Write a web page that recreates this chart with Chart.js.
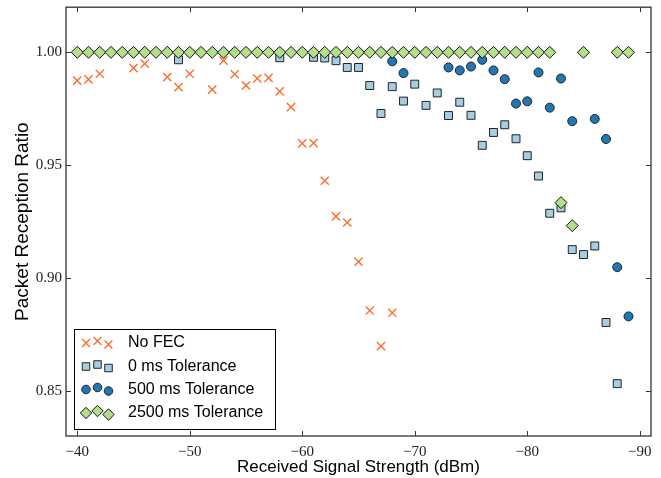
<!DOCTYPE html>
<html>
<head>
<meta charset="utf-8">
<script src="https://cdn.jsdelivr.net/npm/chart.js@4/dist/chart.umd.min.js"></script>
<style>
  html, body { margin: 0; padding: 0; background: #fff; }
  #wrap { width: 661px; height: 478px; }
</style>
</head>
<body>
<div id="wrap"><canvas id="chartPRR" width="661" height="478"></canvas></div>
<script>
// tick labels
const xTicks = [-90, -80, -70, -60, -50, -40];
const yTicks = [0.85, 0.90, 0.95, 1.00];

// No FEC
const noFecX = [-40, -41, -42, -45, -46, -48, -49, -50, -52, -53, -54, -55, -56, -57, -58, -59, -60, -61, -62, -63, -64, -65, -66, -67, -68];
const noFecY = [0.9875, 0.988, 0.9905, 0.993, 0.995, 0.989, 0.9846, 0.9905, 0.9835, 0.9963, 0.9903, 0.9853, 0.9884, 0.9887, 0.9827, 0.9757, 0.9597, 0.9598, 0.9431, 0.9273, 0.9246, 0.9073, 0.8856, 0.8698, 0.8846];

// 0 ms Tolerance
const tol0X = [-49, -58, -61, -62, -63, -64, -65, -66, -67, -68, -69, -70, -71, -72, -73, -74, -75, -76, -77, -78, -79, -80, -81, -82, -83, -84, -85, -86, -87, -88];
const tol0Y = [0.9967, 0.9976, 0.9978, 0.9975, 0.9963, 0.9933, 0.9933, 0.9853, 0.9729, 0.9848, 0.9784, 0.9859, 0.9765, 0.982, 0.972, 0.9779, 0.9721, 0.9588, 0.9645, 0.9679, 0.9617, 0.9542, 0.9452, 0.9287, 0.9311, 0.9126, 0.9104, 0.9142, 0.8803, 0.8532];

// 500 ms Tolerance
const tol500X = [-68, -69, -73, -74, -75, -76, -77, -78, -79, -80, -81, -82, -83, -84, -86, -87, -88, -89];
const tol500Y = [0.996, 0.9908, 0.9933, 0.992, 0.9937, 0.9967, 0.992, 0.9881, 0.9773, 0.9783, 0.9911, 0.9755, 0.9884, 0.9695, 0.9705, 0.9616, 0.9048, 0.883];

// 2500 ms Tolerance
const tol2500X = [-40, -41, -42, -43, -44, -45, -46, -47, -48, -49, -50, -51, -52, -53, -54, -55, -56, -57, -58, -59, -60, -61, -62, -63, -64, -65, -66, -67, -68, -69, -70, -71, -72, -73, -74, -75, -76, -77, -78, -79, -80, -81, -82, -83, -84, -85, -88, -89];
const tol2500Y = [1, 1, 1, 1, 1, 1, 1, 1, 1, 1, 1, 1, 1, 1, 1, 1, 1, 1, 1, 1, 1, 1, 1, 1, 1, 1, 1, 1, 1, 1, 1, 1, 1, 1, 1, 1, 1, 1, 1, 1, 1, 1, 1, 0.9334, 0.9232, 1, 1, 1];

const toPoints = (xs, ys) => xs.map((x, i) => ({ x: x, y: ys[i] }));

const datasets = [
    {
        label: "No FEC",
        data: toPoints(noFecX, noFecY),
        pointStyle: "crossRot",
        pointRadius: 5.8,
        borderColor: "#fc6d2d",
        backgroundColor: "#fc6d2d",
        pointBorderWidth: 1.4,
        order: 4
    },
    {
        label: "0 ms Tolerance",
        data: toPoints(tol0X, tol0Y),
        pointStyle: "rect",
        pointRadius: 5.6,
        borderColor: "#222",
        backgroundColor: "#a6cee3",
        pointBorderWidth: 1,
        order: 3
    },
    {
        label: "500 ms Tolerance",
        data: toPoints(tol500X, tol500Y),
        pointStyle: "circle",
        pointRadius: 4.5,
        borderColor: "#222",
        backgroundColor: "#1f78b4",
        pointBorderWidth: 1,
        order: 2
    },
    {
        label: "2500 ms Tolerance",
        data: toPoints(tol2500X, tol2500Y),
        pointStyle: "rectRot",
        pointRadius: 6,
        borderColor: "#111",
        backgroundColor: "#b2df8a",
        pointBorderWidth: 1,
        order: 1
    }
];

// frame, inward ticks and the boxed legend (three markers per entry)
const framePlugin = {
    id: "frame",
    afterDraw(chart) {
        const ctx = chart.ctx;
        const a = chart.chartArea;
        const xs = chart.scales.x, ys = chart.scales.y;
        ctx.save();
        ctx.strokeStyle = "#333";
        ctx.lineWidth = 1;
        xTicks.forEach(v => {
            const px = Math.round(xs.getPixelForValue(v)) + 0.5;
            ctx.beginPath();
            ctx.moveTo(px, a.bottom); ctx.lineTo(px, a.bottom - 5);
            ctx.moveTo(px, a.top); ctx.lineTo(px, a.top + 5);
            ctx.stroke();
        });
        yTicks.forEach(v => {
            const py = Math.round(ys.getPixelForValue(v)) + 0.5;
            ctx.beginPath();
            ctx.moveTo(a.left, py); ctx.lineTo(a.left + 5, py);
            ctx.moveTo(a.right, py); ctx.lineTo(a.right - 5, py);
            ctx.stroke();
        });
        ctx.lineWidth = 1.3;
        ctx.strokeRect(a.left, a.top, a.right - a.left, a.bottom - a.top);

        // legend
        const bx = a.left + 8, by = a.bottom - 107, bw = 201, bh = 100;
        ctx.fillStyle = "#fff";
        ctx.fillRect(bx, by, bw, bh);
        ctx.strokeStyle = "#000";
        ctx.lineWidth = 1;
        ctx.strokeRect(bx + 0.5, by + 0.5, bw, bh);
        const rowY = [14, 37.5, 60.5, 84];
        const markX = [12, 23.5, 34.5];
        const markDY = [0, -2, 1.5];
        const byLabel = ["No FEC", "0 ms Tolerance", "500 ms Tolerance", "2500 ms Tolerance"];
        byLabel.forEach((lab, r) => {
            const ds = datasets.find(d => d.label === lab);
            markX.forEach((mx, k) => {
                ctx.fillStyle = ds.backgroundColor;
                ctx.strokeStyle = ds.borderColor;
                ctx.lineWidth = ds.pointBorderWidth;
                Chart.helpers.drawPoint(ctx, {
                    pointStyle: ds.pointStyle,
                    radius: ds.pointRadius * 0.95,
                    rotation: 0,
                    borderWidth: ds.pointBorderWidth
                }, bx + mx, by + rowY[r] + markDY[k]);
            });
            ctx.fillStyle = "#000";
            ctx.font = "16px 'Liberation Sans', Arial, sans-serif";
            ctx.textBaseline = "middle";
            ctx.textAlign = "left";
            ctx.fillText(lab, bx + 54, by + rowY[r]);
        });
        ctx.restore();
    }
};

const config = {
    type: "scatter",
    data: { datasets: datasets },
    options: {
        responsive: false,
        animation: false,
        layout: { padding: { top: 7, right: 10, left: 0, bottom: 0 } },
        plugins: {
            legend: { display: false },
            tooltip: { enabled: false }
        },
        scales: {
            x: {
                type: "linear",
                min: -91,
                max: -39,
                reverse: true,
                grid: { display: false, drawTicks: false },
                border: { display: false },
                afterBuildTicks: s => { s.ticks = xTicks.map(v => ({ value: v })); },
                afterFit: s => { s.height = 42; s.paddingLeft = 0; s.paddingRight = 0; },
                ticks: {
                    padding: 7,
                    color: "#222",
                    font: { family: "'Liberation Serif', 'DejaVu Serif', serif", size: 15 },
                    callback: v => "\u2212" + Math.abs(v)
                },
                title: {
                    display: true,
                    text: "Received Signal Strength (dBm)",
                    color: "#000",
                    font: { family: "'Liberation Sans', Arial, sans-serif", size: 17 },
                    padding: { top: 0, bottom: 0 }
                }
            },
            y: {
                type: "linear",
                min: 0.83,
                max: 1.02,
                grid: { display: false, drawTicks: false },
                border: { display: false },
                afterBuildTicks: s => { s.ticks = yTicks.map(v => ({ value: v })); },
                afterFit: s => { s.width = 66; s.paddingTop = 0; s.paddingBottom = 0; },
                ticks: {
                    padding: 4,
                    color: "#222",
                    font: { family: "'Liberation Serif', 'DejaVu Serif', serif", size: 15 },
                    callback: v => v.toFixed(2)
                },
                title: {
                    display: true,
                    text: "Packet Reception Ratio",
                    color: "#000",
                    font: { family: "'Liberation Sans', Arial, sans-serif", size: 19 },
                    padding: { top: 11, bottom: 0 }
                }
            }
        }
    },
    plugins: [framePlugin]
};

let ctx = document.getElementById("chartPRR");
let prrChart = new Chart(ctx, config);
</script>
</body>
</html>
